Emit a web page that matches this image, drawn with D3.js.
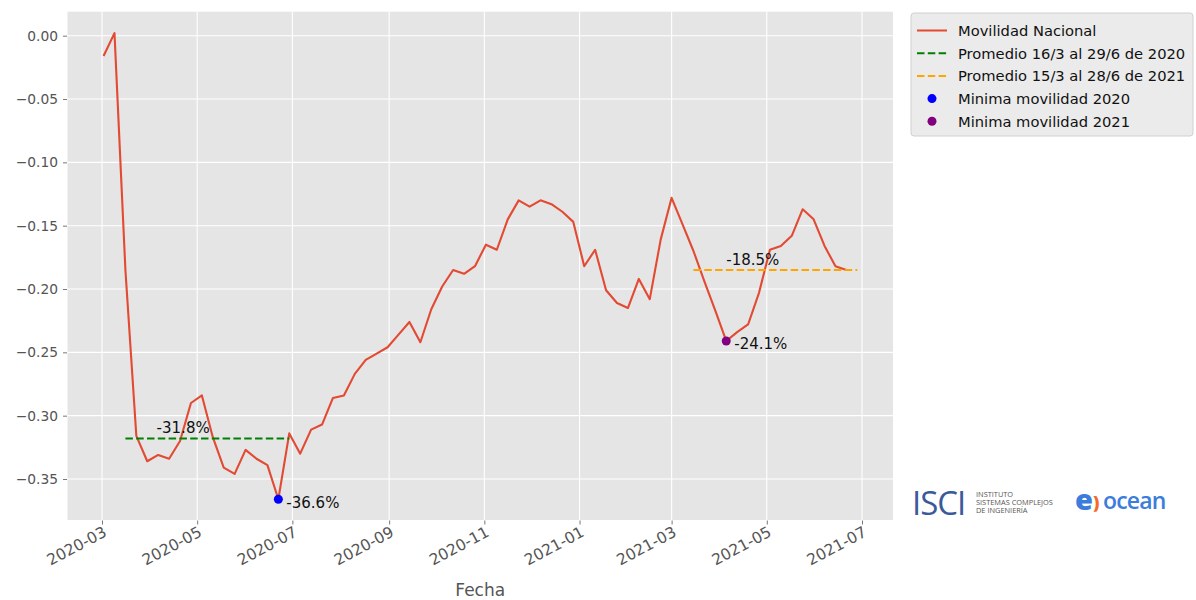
<!DOCTYPE html>
<html><head><meta charset="utf-8">
<script src="https://cdn.jsdelivr.net/npm/d3@7"></script>
<style>
html,body{margin:0;padding:0;background:#fff;}
svg{display:block;font-family:"DejaVu Sans",sans-serif;}
</style></head>
<body><svg id="chart" width="1196" height="600"></svg>
<script>
const dates = ["2020-03-02","2020-03-09","2020-03-16","2020-03-23","2020-03-30","2020-04-06","2020-04-13","2020-04-20","2020-04-27","2020-05-04","2020-05-11","2020-05-18","2020-05-25","2020-06-01","2020-06-08","2020-06-15","2020-06-22","2020-06-29","2020-07-06","2020-07-13","2020-07-20","2020-07-27","2020-08-03","2020-08-10","2020-08-17","2020-08-24","2020-08-31","2020-09-07","2020-09-14","2020-09-21","2020-09-28","2020-10-05","2020-10-12","2020-10-19","2020-10-26","2020-11-02","2020-11-09","2020-11-16","2020-11-23","2020-11-30","2020-12-07","2020-12-14","2020-12-21","2020-12-28","2021-01-04","2021-01-11","2021-01-18","2021-01-25","2021-02-01","2021-02-08","2021-02-15","2021-02-22","2021-03-01","2021-03-08","2021-03-15","2021-03-22","2021-03-29","2021-04-05","2021-04-12","2021-04-19","2021-04-26","2021-05-03","2021-05-10","2021-05-17","2021-05-24","2021-05-31","2021-06-07","2021-06-14","2021-06-21"];
const movilidad = [-0.016,0.002,-0.185,-0.316,-0.336,-0.331,-0.334,-0.320,-0.290,-0.284,-0.317,-0.341,-0.346,-0.327,-0.334,-0.339,-0.366,-0.314,-0.330,-0.311,-0.307,-0.286,-0.284,-0.267,-0.256,-0.251,-0.246,-0.236,-0.226,-0.242,-0.216,-0.198,-0.185,-0.188,-0.182,-0.165,-0.169,-0.145,-0.130,-0.135,-0.130,-0.133,-0.139,-0.147,-0.182,-0.169,-0.201,-0.211,-0.215,-0.192,-0.208,-0.161,-0.128,-0.149,-0.170,-0.194,-0.217,-0.241,-0.234,-0.228,-0.203,-0.169,-0.166,-0.158,-0.137,-0.145,-0.166,-0.182,-0.185];
const avg2020 = {start:"2020-03-16", end:"2020-06-29", value:-0.318, label:"-31.8%", labelDate:"2020-04-05"};
const avg2021 = {start:"2021-03-15", end:"2021-06-28", value:-0.185, label:"-18.5%", labelDate:"2021-04-05"};
const min2020 = {date:"2020-06-22", value:-0.366, label:"-36.6%"};
const min2021 = {date:"2021-04-05", value:-0.241, label:"-24.1%"};
const yTicks = [0,-0.05,-0.10,-0.15,-0.20,-0.25,-0.30,-0.35];
const xTickDates = ["2020-03-01","2020-05-01","2020-07-01","2020-09-01","2020-11-01","2021-01-01","2021-03-01","2021-05-01","2021-07-01"];
const legendLabels = ["Movilidad Nacional","Promedio 16/3 al 29/6 de 2020","Promedio 15/3 al 28/6 de 2021","Minima movilidad 2020","Minima movilidad 2021"];
const colors = {line:"#E24A33", avg2020:"#008000", avg2021:"#FFA500", min2020:"#0000FF", min2021:"#800080"};

const parse = d3.utcParse("%Y-%m-%d");
const L = 67.5, R = 893, T = 11.7, B = 520;

// anchor scales (calibrated), then extend to the plot frame
const xa = d3.scaleUtc().domain([parse("2020-03-01"), parse("2021-07-01")]).range([102, 862]);
const x = d3.scaleUtc().domain([xa.invert(L), xa.invert(R)]).range([L, R]);
const ya = d3.scaleLinear().domain([-0.35, 0]).range([479, 35.7]);
const y = d3.scaleLinear().domain([ya.invert(B), ya.invert(T)]).range([B, T]);

const svg = d3.select("#chart");
svg.append("rect").attr("x",L).attr("y",T).attr("width",R-L).attr("height",B-T).attr("fill","#E5E5E5");

// grid
const g = svg.append("g");
g.selectAll(".gy").data(yTicks).join("line")
  .attr("x1",L).attr("x2",R).attr("y1",d=>y(d)).attr("y2",d=>y(d))
  .attr("stroke","#fff").attr("stroke-width",1.1);
g.selectAll(".gx").data(xTickDates).join("line")
  .attr("y1",T).attr("y2",B).attr("x1",d=>x(parse(d))).attr("x2",d=>x(parse(d)))
  .attr("stroke","#fff").attr("stroke-width",1.1);

// axes
const yAxis = d3.axisLeft(y).tickValues(yTicks).tickFormat(d3.format(".2f")).tickSize(4).tickPadding(5);
const ya_g = svg.append("g").attr("transform",`translate(${L-0.5},0)`).call(yAxis);
ya_g.select(".domain").remove();
ya_g.selectAll("line").attr("stroke","#555").attr("stroke-width",0.8);
ya_g.selectAll("text").attr("fill","#555").style("font-size","13.8px").style("font-family","DejaVu Sans");

const xAxis = d3.axisBottom(x).tickValues(xTickDates.map(parse)).tickFormat(d3.utcFormat("%Y-%m")).tickSize(4).tickPadding(4);
const xa_g = svg.append("g").attr("transform",`translate(0,${B+0.5})`).call(xAxis);
xa_g.select(".domain").remove();
xa_g.selectAll("line").attr("stroke","#555").attr("stroke-width",0.8);
xa_g.selectAll("text").attr("fill","#555").style("font-size","15.5px").style("font-family","DejaVu Sans")
  .attr("text-anchor","end").attr("dy",null).attr("y",null)
  .attr("dominant-baseline","hanging")
  .attr("transform","translate(0,5) rotate(-28)");

svg.append("text").attr("x",(L+R)/2).attr("y",596).attr("text-anchor","middle")
  .attr("fill","#555").style("font-size","17px").text("Fecha");

// main line
const data = dates.map((d,i)=>({date:parse(d), v:movilidad[i]}));
svg.append("path").datum(data)
  .attr("d", d3.line().x(d=>x(d.date)).y(d=>y(d.v)))
  .attr("fill","none").attr("stroke",colors.line).attr("stroke-width",2.1).attr("stroke-linejoin","round");

// averages
[[avg2020,colors.avg2020],[avg2021,colors.avg2021]].forEach(([a,c])=>{
  svg.append("line").attr("x1",x(parse(a.start))).attr("x2",x(parse(a.end)))
    .attr("y1",y(a.value)).attr("y2",y(a.value))
    .attr("stroke",c).attr("stroke-width",2).attr("stroke-dasharray","7.5,3.3");
  svg.append("text").attr("x",x(parse(a.labelDate))).attr("y",y(a.value)-5.5)
    .attr("fill","#111").style("font-size","15px").text(a.label);
});

// minima
[[min2020,colors.min2020],[min2021,colors.min2021]].forEach(([m,c])=>{
  svg.append("circle").attr("cx",x(parse(m.date))).attr("cy",y(m.value)).attr("r",4.5).attr("fill",c);
  svg.append("text").attr("x",x(parse(m.date))+8).attr("y",y(m.value)+8.5)
    .attr("fill","#111").style("font-size","15px").text(m.label);
});

// legend
const lg = svg.append("g");
lg.append("rect").attr("x",911).attr("y",13).attr("width",282).attr("height",123).attr("rx",3)
  .attr("fill","#EBEBEB").attr("stroke","#D0D0D0").attr("stroke-width",1);
const legendItems = [
  {type:"line", color:colors.line},
  {type:"dash", color:colors.avg2020},
  {type:"dash", color:colors.avg2021},
  {type:"dot", color:colors.min2020},
  {type:"dot", color:colors.min2021}
];
legendItems.forEach((it,i)=>{
  const yy = 30.5 + i*22.7;
  if(it.type==="dot"){
    lg.append("circle").attr("cx",932).attr("cy",yy).attr("r",4.5).attr("fill",it.color);
  } else {
    lg.append("line").attr("x1",917).attr("x2",947).attr("y1",yy).attr("y2",yy)
      .attr("stroke",it.color).attr("stroke-width",2)
      .attr("stroke-dasharray", it.type==="dash" ? "7.5,3.3" : null);
  }
  lg.append("text").attr("x",958).attr("y",yy).attr("dominant-baseline","central")
    .attr("fill","#111").style("font-size","14.7px").text(legendLabels[i]);
});

// logos (as text)
const logo = svg.append("g");
logo.append("text").attr("x",912).attr("y",515).attr("fill","#3C5A9A")
  .style("font-family","Open Sans").style("font-size","33px").style("font-weight","500").style("letter-spacing","-1px").text("ISCI");
[["INSTITUTO",497],["SISTEMAS COMPLEJOS",505],["DE INGENIERÍA",513]].forEach(([t,yy])=>{
  logo.append("text").attr("x",976).attr("y",yy).attr("fill","#555")
    .style("font-family","Open Sans").style("font-size","7.4px").text(t);
});
logo.append("text").attr("x",1075).attr("y",510).attr("fill","#3B7DDD")
  .style("font-family","Open Sans").style("font-size","29px").style("font-weight","800").text("e");
logo.append("text").attr("x",1093).attr("y",509).attr("fill","#F26A2E")
  .style("font-family","Open Sans").style("font-size","18px").style("font-weight","800").text(")");
logo.append("text").attr("x",1103).attr("y",509).attr("fill","#3B7DDD")
  .style("font-family","Open Sans").style("font-size","23px").style("font-weight","600").style("letter-spacing","-0.8px").text("ocean");
</script>
</body></html>
